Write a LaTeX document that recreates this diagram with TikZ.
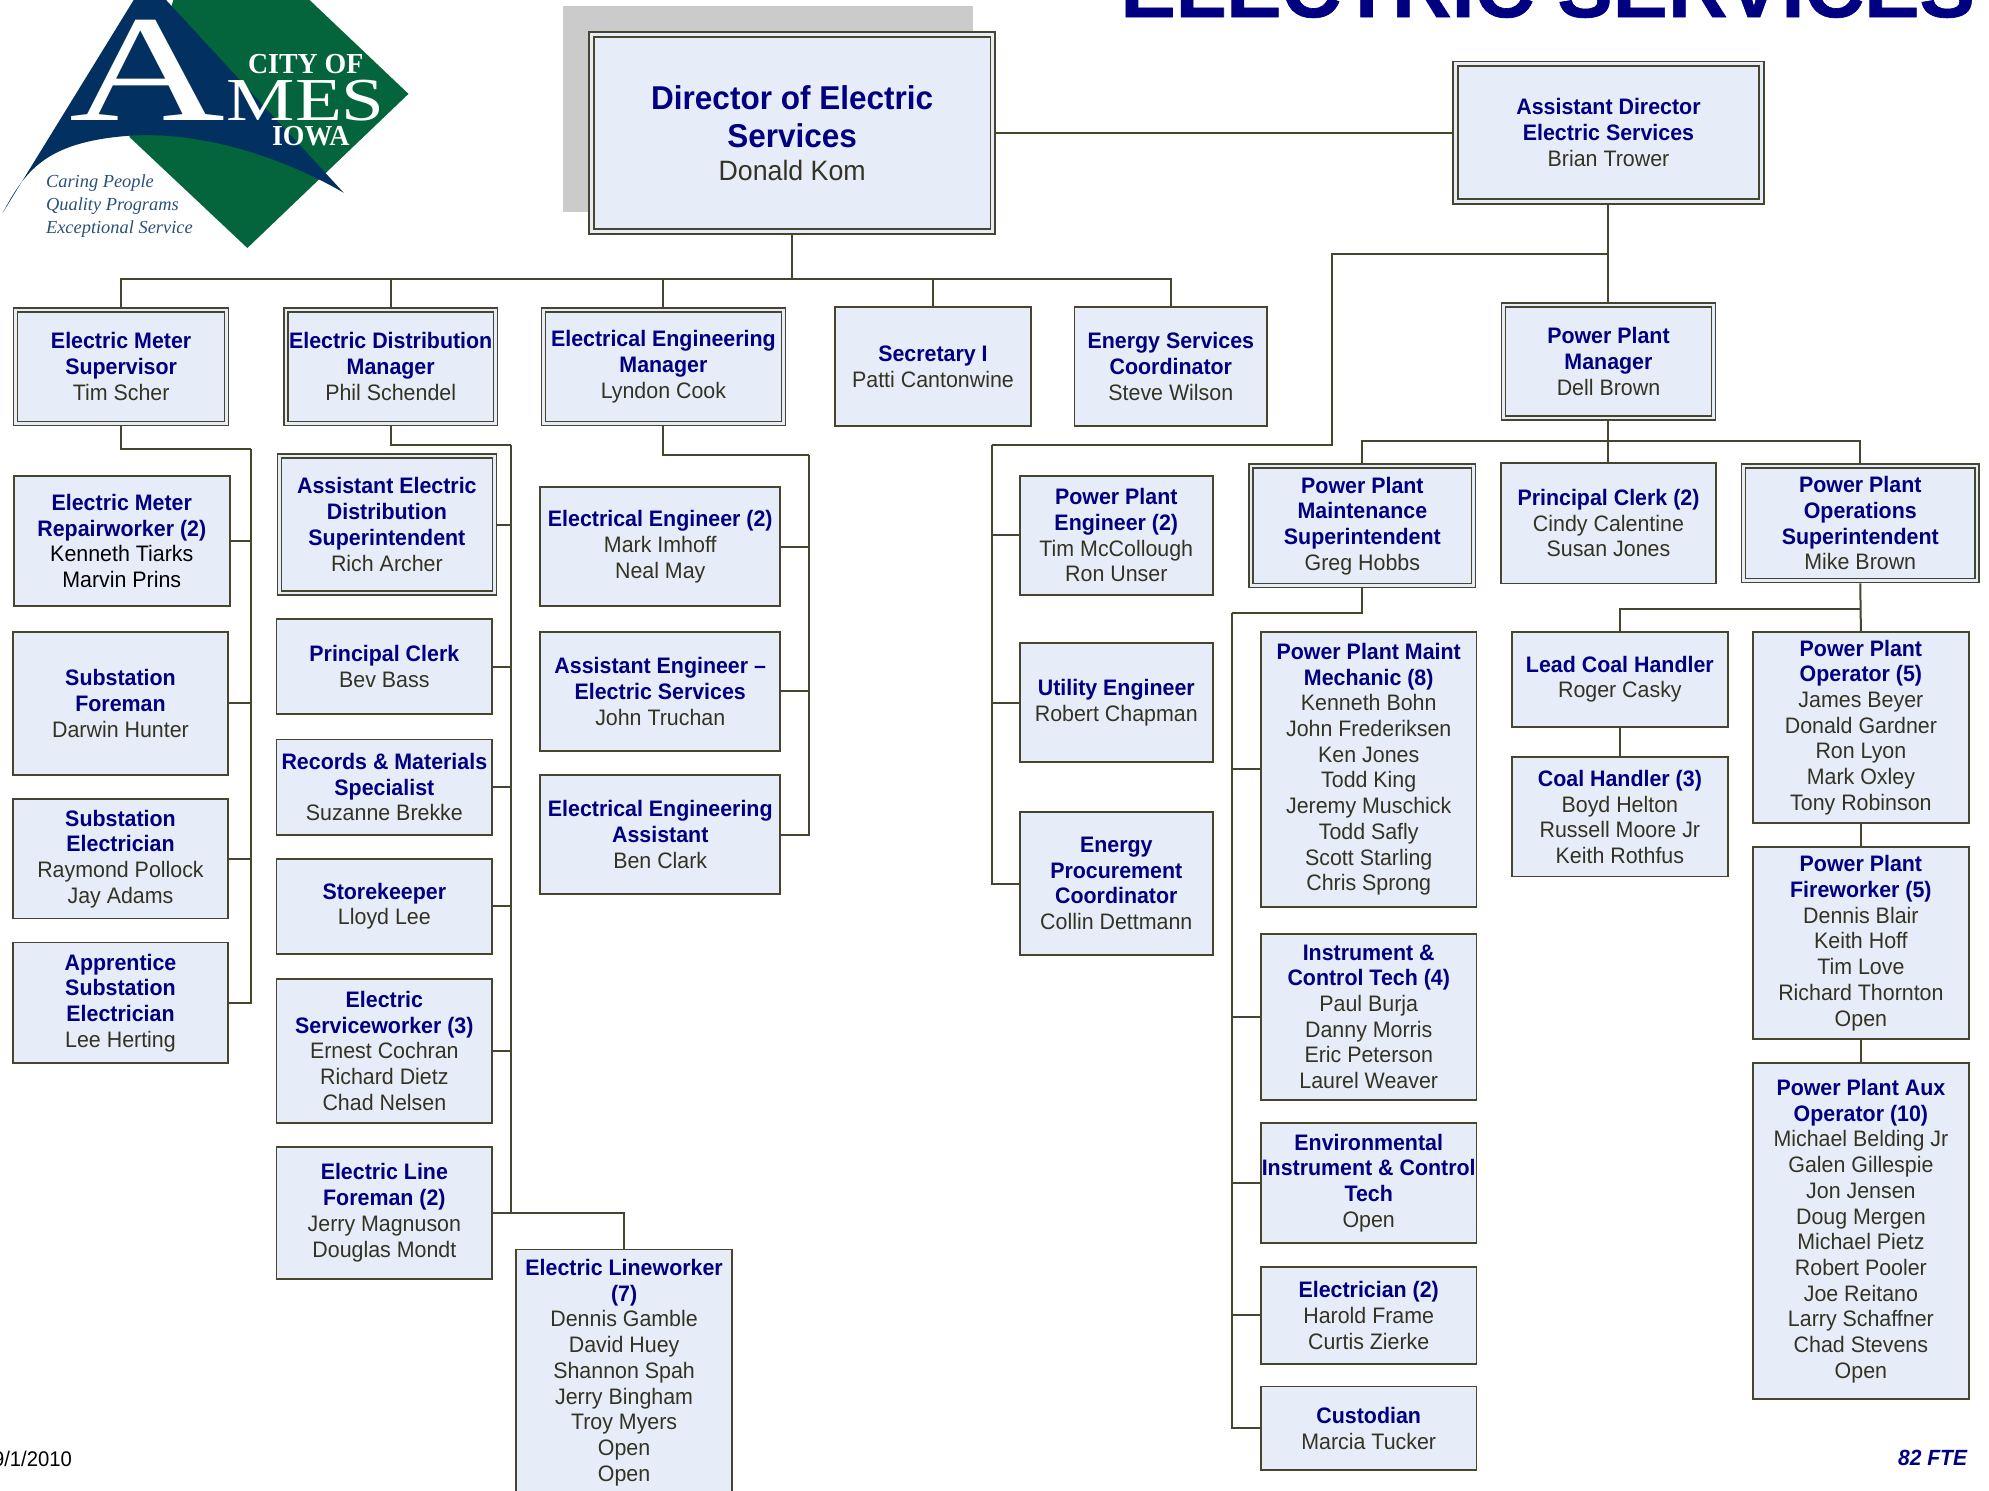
\documentclass[tikz,border=0pt]{standalone}
\usepackage{fontspec}
\setmainfont[FakeStretch=0.955]{Liberation Sans}
\newfontfamily\titlefont[BoldFeatures={FakeBold=0.8}]{Liberation Sans}
\newfontfamily\logoserif{Liberation Serif}
\definecolor{boxfill}{HTML}{E7EDF8}
\definecolor{linec}{HTML}{454530}
\definecolor{navyc}{HTML}{000080}
\definecolor{namec}{HTML}{333325}
\definecolor{logogreen}{HTML}{04643C}
\definecolor{logoblue}{HTML}{023060}
\definecolor{tagc}{HTML}{2A5078}
\definecolor{shadowc}{HTML}{CBCBCB}
\newcommand\ptitle[1]{\textcolor{navyc}{\textbf{#1}}}
\newcommand\pname[1]{\textcolor{namec}{#1}}
\newcommand\bx[7][sgl]{\node[orgbox,#1,minimum width={(#5-#3)*0.63425pt},minimum height={(#6-#4)*0.63425pt}] (#2) at ({(#3+#5)/2},{(#4+#6)/2}) {#7};}
\newcommand\bxd[7][dbl]{\bx[#1]{#2}{(#3+2.3)}{(#4+2.3)}{(#5-2.3)}{(#6-2.3)}{#7}}
\tikzset{
  orgbox/.style={draw=linec,fill=boxfill,align=center,inner sep=0pt,font=\fontsize{11.2}{12.85}\selectfont},
  sgl/.style={line width=.9pt},
  dbl/.style={line width=.8pt,double=boxfill,double distance=1.2pt,outer sep=1.4pt},
  dblbig/.style={line width=.95pt,double=boxfill,double distance=1.4pt,outer sep=1.65pt},
  conn/.style={draw=linec,line width=1pt},
  logotxt/.style={text=white,inner sep=0pt,transform shape},
  tag/.style={text=tagc,inner sep=0pt,anchor=west,font=\logoserif\itshape\fontsize{9.2}{11}\selectfont}
}
\begin{document}
\begin{tikzpicture}[x=0.63425pt,y=-0.63425pt]
\useasboundingbox (0,0) rectangle (1568,1175.4);
% logo
\fill[logogreen] (137,-1) -- (243,-1) -- (322,74) -- (195,195.5) -- (102,108) -- cycle;
\fill[logoblue] (2,168) .. controls (20,135) and (35,112) .. (102,107)
  .. controls (160,103) and (225,125) .. (271,152)
  -- (130,-1) -- (106,-1) -- cycle;
\node[logotxt,xscale=1.42,font=\logoserif\fontsize{76}{76}\selectfont,anchor=base] (logoA) at (116,95) {A};
\node[logotxt,xscale=1.26,font=\logoserif\fontsize{30.5}{30}\selectfont,anchor=base] (logoM) at (241,95) {MES};
\node[logotxt,xscale=.96,font=\logoserif\bfseries\fontsize{14.5}{14}\selectfont,anchor=base] (logoC) at (241,58) {CITY OF};
\node[logotxt,xscale=.96,font=\logoserif\bfseries\fontsize{14.5}{14}\selectfont,anchor=base] (logoI) at (245,115) {IOWA};
\node[tag] (tag1) at (36,144.5) {Caring People};
\node[tag] (tag2) at (36,162.5) {Quality Programs};
\node[tag] (tag3) at (36,180.5) {Exceptional Service};
% title
\node[text=navyc,font=\titlefont\bfseries\fontsize{41.4}{41}\selectfont,inner sep=0pt,anchor=base] (title) at (1220,13.5) {ELECTRIC SERVICES};
% shadow
\fill[shadowc] (444,5) rectangle (767,167);
% boxes
\bxd[dblbig,font=\fontsize{16.5}{19}\selectfont]{dir}{464}{25}{785}{185}{\ptitle{Director of Electric}\\\ptitle{Services}\\[-2.5pt]{\fontsize{14}{17}\selectfont\pname{Donald Kom}}}
\bxd[dblbig]{adir}{1145}{48}{1391}{161}{\ptitle{Assistant Director}\\\ptitle{Electric Services}\\\pname{Brian Trower}}
\bxd{msup}{10}{242}{181}{336}{\ptitle{Electric Meter}\\\ptitle{Supervisor}\\\pname{Tim Scher}}
\bxd{dmgr}{223}{242}{393}{336}{\ptitle{Electric Distribution}\\\ptitle{Manager}\\\pname{Phil Schendel}}
\bxd{emgr}{426}{242}{620}{336}{\ptitle{Electrical Engineering}\\\ptitle{Manager}\\\pname{Lyndon Cook}}
\bx{sec}{658}{242}{813}{336}{\ptitle{Secretary I}\\\pname{Patti Cantonwine}}
\bx{esc}{847}{242}{999}{336}{\ptitle{Energy Services}\\\ptitle{Coordinator}\\\pname{Steve Wilson}}
\bxd{ppm}{1183}{238}{1353}{332}{\ptitle{Power Plant}\\\ptitle{Manager}\\\pname{Dell Brown}}
% column 1
\bx{rep}{11}{375}{181}{478}{\ptitle{Electric Meter}\\\ptitle{Repairworker (2)}\\Kenneth Tiarks\\Marvin Prins}
\bx{sfo}{10}{498}{180}{611}{\ptitle{Substation}\\\ptitle{Foreman}\\\pname{Darwin Hunter}}
\bx{sel}{10}{630}{180}{724}{\ptitle{Substation}\\\ptitle{Electrician}\\\pname{Raymond Pollock}\\\pname{Jay Adams}}
\bx{ase}{10}{743}{180}{838}{\ptitle{Apprentice}\\\ptitle{Substation}\\\ptitle{Electrician}\\\pname{Lee Herting}}
% column 2
\bxd{ads}{218}{357}{392}{470}{\ptitle{Assistant Electric}\\\ptitle{Distribution}\\\ptitle{Superintendent}\\\pname{Rich Archer}}
\bx{pcl}{218}{488}{388}{563}{\ptitle{Principal Clerk}\\\pname{Bev Bass}}
\bx{rec}{218}{583}{388}{658}{\ptitle{Records \& Materials}\\\ptitle{Specialist}\\\pname{Suzanne Brekke}}
\bx{sto}{218}{677}{388}{752}{\ptitle{Storekeeper}\\\pname{Lloyd Lee}}
\bx{esw}{218}{772}{388}{885}{\ptitle{Electric}\\\ptitle{Serviceworker (3)}\\\pname{Ernest Cochran}\\\pname{Richard Dietz}\\\pname{Chad Nelsen}}
\bx{elf}{218}{904}{388}{1008}{\ptitle{Electric Line}\\\ptitle{Foreman (2)}\\\pname{Jerry Magnuson}\\\pname{Douglas Mondt}}
\bx{elw}{407}{985}{577}{1179}{\ptitle{Electric Lineworker}\\\ptitle{(7)}\\\pname{Dennis Gamble}\\\pname{David Huey}\\\pname{Shannon Spah}\\\pname{Jerry Bingham}\\\pname{Troy Myers}\\\pname{Open}\\\pname{Open}}
% column 3
\bx{een}{426}{384}{615}{478}{\ptitle{Electrical Engineer (2)}\\\pname{Mark Imhoff}\\\pname{Neal May}}
\bx{aen}{426}{498}{615}{592}{\ptitle{Assistant Engineer --}\\\ptitle{Electric Services}\\\pname{John Truchan}}
\bx{eea}{426}{611}{615}{705}{\ptitle{Electrical Engineering}\\\ptitle{Assistant}\\\pname{Ben Clark}}
% column 4
\bx{ppe}{804}{375}{956}{469}{\ptitle{Power Plant}\\\ptitle{Engineer (2)}\\\pname{Tim McCollough}\\\pname{Ron Unser}}
\bx{uen}{804}{507}{956}{601}{\ptitle{Utility Engineer}\\\pname{Robert Chapman}}
\bx{epc}{804}{640}{956}{753}{\ptitle{Energy}\\\ptitle{Procurement}\\\ptitle{Coordinator}\\\pname{Collin Dettmann}}
% plant
\bxd{pms}{984}{365}{1164}{464}{\ptitle{Power Plant}\\\ptitle{Maintenance}\\\ptitle{Superintendent}\\\pname{Greg Hobbs}}
\bx{pc2}{1183}{365}{1353}{460}{\ptitle{Principal Clerk (2)}\\\pname{Cindy Calentine}\\\pname{Susan Jones}}
\bxd{pos}{1372}{365}{1561}{460}{\ptitle{Power Plant}\\\ptitle{Operations}\\\ptitle{Superintendent}\\\pname{Mike Brown}}
\bx{mec}{994}{498}{1164}{715}{\ptitle{Power Plant Maint}\\\ptitle{Mechanic (8)}\\\pname{Kenneth Bohn}\\\pname{John Frederiksen}\\\pname{Ken Jones}\\\pname{Todd King}\\\pname{Jeremy Muschick}\\\pname{Todd Safly}\\\pname{Scott Starling}\\\pname{Chris Sprong}}
\bx{ict}{994}{736}{1164}{867}{\ptitle{Instrument \&}\\\ptitle{Control Tech (4)}\\\pname{Paul Burja}\\\pname{Danny Morris}\\\pname{Eric Peterson}\\\pname{Laurel Weaver}}
\bx{env}{994}{885}{1164}{980}{\ptitle{Environmental}\\\ptitle{Instrument \& Control}\\\ptitle{Tech}\\\pname{Open}}
\bx{ele}{994}{999}{1164}{1075}{\ptitle{Electrician (2)}\\\pname{Harold Frame}\\\pname{Curtis Zierke}}
\bx{cus}{994}{1093}{1164}{1159}{\ptitle{Custodian}\\\pname{Marcia Tucker}}
\bx{lch}{1192}{498}{1362}{573}{\ptitle{Lead Coal Handler}\\\pname{Roger Casky}}
\bx{coh}{1192}{597}{1362}{691}{\ptitle{Coal Handler (3)}\\\pname{Boyd Helton}\\\pname{Russell Moore Jr}\\\pname{Keith Rothfus}}
\bx{pwo}{1382}{498}{1552}{649}{\ptitle{Power Plant}\\\ptitle{Operator (5)}\\\pname{James Beyer}\\\pname{Donald Gardner}\\\pname{Ron Lyon}\\\pname{Mark Oxley}\\\pname{Tony Robinson}}
\bx{fir}{1382}{668}{1552}{819}{\ptitle{Power Plant}\\\ptitle{Fireworker (5)}\\\pname{Dennis Blair}\\\pname{Keith Hoff}\\\pname{Tim Love}\\\pname{Richard Thornton}\\\pname{Open}}
\bx{aux}{1382}{838}{1552}{1103}{\ptitle{Power Plant Aux}\\\ptitle{Operator (10)}\\\pname{Michael Belding Jr}\\\pname{Galen Gillespie}\\\pname{Jon Jensen}\\\pname{Doug Mergen}\\\pname{Michael Pietz}\\\pname{Robert Pooler}\\\pname{Joe Reitano}\\\pname{Larry Schaffner}\\\pname{Chad Stevens}\\\pname{Open}}
% footer
\node[font=\fontsize{10.6}{13}\selectfont,inner sep=0pt,anchor=east] (date) at (57,1150) {9/1/2010};
\node[text=navyc,font=\bfseries\itshape\fontsize{11}{13}\selectfont,inner sep=0pt,anchor=east] (fte) at (1551,1149) {82 FTE};
% junctions
\coordinate (busA) at (624.5,220);
\coordinate (br) at (1268,200);
\coordinate (r1) at (1050,351);
\coordinate (r2) at (782,351);
\coordinate (m1) at (198,354);
\coordinate (d1) at (403,351);
\coordinate (e1) at (638,359);
\coordinate (p1) at (1268,348);
\coordinate (q1) at (971,483);
\coordinate (o1) at (1466.5,480);
% connectors
\draw[conn] (dir.south) -- (busA);
\draw[conn] (busA) -| (msup.north);
\draw[conn] (busA) -| (dmgr.north);
\draw[conn] (busA) -| (emgr.north);
\draw[conn] (busA) -| (sec.north);
\draw[conn] (busA) -| (esc.north);
\draw[conn] (dir.east) -- (dir.east -| adir.west);
\draw[conn] (adir.south) -- (ppm.north);
\draw[conn] (br) -| (r1) -- (r2);
\draw[conn] (r2) |- (ppe.west);
\draw[conn] (r2) |- (uen.west);
\draw[conn] (r2) |- (epc.west);
\draw[conn] (msup.south) |- (m1);
\draw[conn] (m1) |- (rep.east);
\draw[conn] (m1) |- (sfo.east);
\draw[conn] (m1) |- (sel.east);
\draw[conn] (m1) |- (ase.east);
\draw[conn] (dmgr.south) |- (d1);
\draw[conn] (d1) |- (ads.east);
\draw[conn] (d1) |- (pcl.east);
\draw[conn] (d1) |- (rec.east);
\draw[conn] (d1) |- (sto.east);
\draw[conn] (d1) |- (esw.east);
\draw[conn] (d1) |- (elf.east);
\draw[conn] (elf.east) -| (elw.north);
\draw[conn] (emgr.south) |- (e1);
\draw[conn] (e1) |- (een.east);
\draw[conn] (e1) |- (aen.east);
\draw[conn] (e1) |- (eea.east);
\draw[conn] (ppm.south) -- (pc2.north);
\draw[conn] (p1) -| (pms.north);
\draw[conn] (p1) -| (pos.north);
\draw[conn] (pms.south) |- (q1);
\draw[conn] (q1) |- (mec.west);
\draw[conn] (q1) |- (ict.west);
\draw[conn] (q1) |- (env.west);
\draw[conn] (q1) |- (ele.west);
\draw[conn] (q1) |- (cus.west);
\draw[conn] (pos.south) -- (pwo.north);
\draw[conn] (o1) -| (lch.north);
\draw[conn] (lch.south) -- (coh.north);
\draw[conn] (pwo.south) -- (fir.north);
\draw[conn] (fir.south) -- (aux.north);
\end{tikzpicture}
\end{document}
